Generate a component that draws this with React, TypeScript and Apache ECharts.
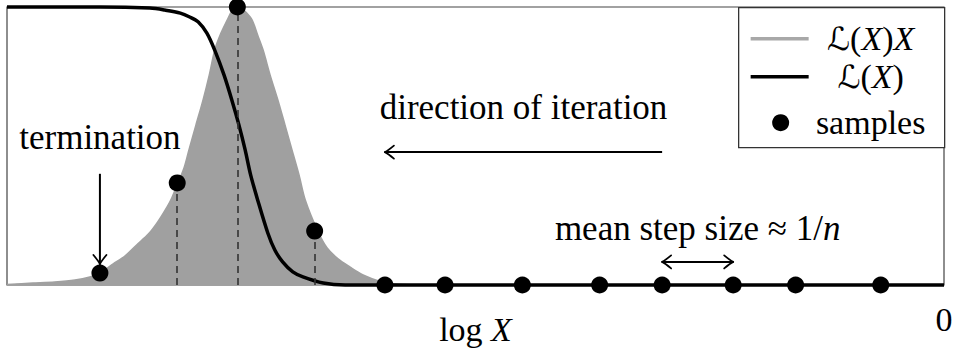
import React, { useEffect, useRef } from "react";
import * as echarts from "echarts";

const W = 954;
const H = 356;

// Posterior mass L(X)X against log X
const massLogX = [-12, -11.67, -11.39, -11.13, -10.94, -10.81, -10.64, -10.49, -10.34, -10.19, -10.07, -9.95, -9.89, -9.81, -9.73, -9.67, -9.58, -9.49, -9.41, -9.34, -9.26, -9.18, -9.12, -9.05, -8.99, -8.93, -8.86, -8.79, -8.72, -8.63, -8.53, -8.44, -8.35, -8.26, -8.18, -8.02, -7.9, -7.76, -7.61, -7.44, -7.22, -6.97, -6.71, 0];
const massValue = [0.002, 0.007, 0.011, 0.018, 0.029, 0.043, 0.076, 0.104, 0.144, 0.183, 0.227, 0.281, 0.313, 0.367, 0.424, 0.486, 0.576, 0.665, 0.755, 0.845, 0.906, 0.953, 0.986, 1.0, 0.993, 0.978, 0.953, 0.899, 0.845, 0.755, 0.665, 0.576, 0.486, 0.396, 0.306, 0.194, 0.133, 0.094, 0.065, 0.036, 0.013, 0.003, 0, 0];

// Likelihood L(X) against log X
const likeLogX = [-12, -10.81, -10.17, -9.98, -9.78, -9.66, -9.55, -9.44, -9.34, -9.22, -9.12, -9.03, -8.95, -8.88, -8.79, -8.66, -8.57, -8.47, -8.34, -8.21, -7.95, -7.67, 0];
const likeValue = [1, 1, 0.996, 0.989, 0.978, 0.964, 0.946, 0.906, 0.845, 0.755, 0.665, 0.576, 0.486, 0.396, 0.306, 0.187, 0.126, 0.083, 0.047, 0.029, 0.007, 0, 0];

// Dead points of the run
const sampleLogX = [-10.81, -9.82, -9.05, -8.06, -7.16, -6.39, -5.4, -4.41, -3.61, -2.7, -1.9, -0.81];
const sampleValue = [0.043, 0.367, 1.0, 0.194, 0, 0, 0, 0, 0, 0, 0, 0];
const dashedSamples = [1, 2, 3];

// Axis range and the single tick label
const xMin = -12;
const xMax = 0;
const xTickLabels = ["0"];

const legendNames = ["ℒ(X)X", "ℒ(X)", "samples"];

// Annotation heights (in units of the value axis)
const terminationTextY = 0.53;
const terminationArrowTop = 0.4;
const directionTextY = 0.637;
const directionArrowY = 0.478;
const stepTextY = 0.205;
const stepArrowY = 0.083;

const SERIF = "'Liberation Serif', 'Times New Roman', serif";
const SCRIPT = "'DejaVu Serif', 'DejaVu Sans', serif";
const INK = "#000";

const mathRich = (size: number) => ({
  r: { fontFamily: SERIF, fontSize: size, color: INK },
  i: { fontFamily: SERIF, fontSize: size, fontStyle: "italic", color: INK },
  s: { fontFamily: SCRIPT, fontSize: size - 2, fontStyle: "italic", color: INK },
});

function arrowHead(tip: number[], from: number[]) {
  const len = Math.hypot(tip[0] - from[0], tip[1] - from[1]);
  const dx = (tip[0] - from[0]) / len;
  const dy = (tip[1] - from[1]) / len;
  const nx = -dy;
  const ny = dx;
  return [1, -1].map((s) => ({
    type: "bezierCurve",
    shape: {
      x1: tip[0] - dx * 9 + nx * 6.5 * s,
      y1: tip[1] - dy * 9 + ny * 6.5 * s,
      cpx1: tip[0] - dx * 3 + nx * 1.5 * s,
      cpy1: tip[1] - dy * 3 + ny * 1.5 * s,
      x2: tip[0],
      y2: tip[1],
    },
    style: { stroke: INK, lineWidth: 1.8, fill: "none", lineCap: "round" },
    z: 20,
  }));
}

function shaft(a: number[], b: number[]) {
  return {
    type: "line",
    shape: { x1: a[0], y1: a[1], x2: b[0], y2: b[1] },
    style: { stroke: INK, lineWidth: 2 },
    z: 20,
  };
}

function label(text: string, x: number, y: number, size: number) {
  return {
    type: "text",
    x,
    y,
    z: 20,
    style: {
      text,
      rich: mathRich(size),
      fontFamily: SERIF,
      fontSize: size,
      fill: INK,
      align: "center",
      textAlign: "center",
      verticalAlign: "middle",
      textVerticalAlign: "middle",
    },
  };
}

function buildGraphics(chart: echarts.ECharts) {
  const px = (x: number, y: number) => chart.convertToPixel({ gridIndex: 0 }, [x, y]) as number[];
  const out: any[] = [];

  // termination
  const t = px(sampleLogX[0], sampleValue[0]);
  const tText = px(sampleLogX[0], terminationTextY);
  const tTop = px(sampleLogX[0], terminationArrowTop);
  const tTip = [t[0], t[1] - 9];
  out.push(label("{r|termination}", tText[0], tText[1], 35));
  out.push(shaft(tTop, tTip));
  out.push(...arrowHead(tTip, tTop));

  // direction of iteration
  const dStart = px(sampleLogX[8], directionArrowY);
  const dTip = px(sampleLogX[4], directionArrowY);
  const dMid = px((sampleLogX[8] + sampleLogX[4]) / 2, directionTextY);
  out.push(label("{r|direction of iteration}", dMid[0], dMid[1], 35));
  out.push(shaft(dStart, dTip));
  out.push(...arrowHead(dTip, dStart));

  // mean step size
  const a = px(sampleLogX[8], stepArrowY);
  const b = px(sampleLogX[9], stepArrowY);
  const sMid = px((sampleLogX[8] + sampleLogX[9]) / 2, stepTextY);
  out.push(label("{r|mean step size ≈ 1/}{i|n}", sMid[0], sMid[1], 35));
  out.push(shaft(a, b));
  out.push(...arrowHead(a, b));
  out.push(...arrowHead(b, a));

  // legend box
  out.push({
    type: "group",
    left: 738,
    top: 7,
    z: 30,
    children: [
      {
        type: "rect",
        shape: { x: 0, y: 0, width: 206, height: 140 },
        style: { fill: "#fff", stroke: "#333", lineWidth: 1.3 },
      },
      {
        type: "line",
        shape: { x1: 12, y1: 31, x2: 70, y2: 31 },
        style: { stroke: "#a8a8a8", lineWidth: 3.5 },
      },
      label("{s|ℒ}{r|(}{i|X}{r|)}{i|X}", 132, 31, 34),
      {
        type: "line",
        shape: { x1: 12, y1: 69, x2: 70, y2: 69 },
        style: { stroke: INK, lineWidth: 3.5 },
      },
      label("{s|ℒ}{r|(}{i|X}{r|)}", 132, 69, 34),
      {
        type: "circle",
        shape: { cx: 42, cy: 115, r: 8.5 },
        style: { fill: INK },
      },
      label("{r|" + legendNames[2] + "}", 132, 115, 34),
    ],
  });
  return out;
}

export default function App() {
  const ref = useRef<HTMLDivElement>(null);

  useEffect(() => {
    const el = ref.current!;
    const chart = echarts.init(el, undefined, { renderer: "svg", width: W, height: H });
    chart.setOption({
      animation: false,
      backgroundColor: "#fff",
      grid: {
        left: 7,
        right: W - 944,
        top: 7,
        bottom: H - 285,
        outerBoundsMode: "none",
        containLabel: false,
        show: true,
        borderColor: "#444",
        borderWidth: 1.2,
        backgroundColor: "transparent",
      },
      xAxis: {
        type: "value",
        min: xMin,
        max: xMax,
        interval: 12,
        name: "{r|log }{i|X}",
        nameLocation: "middle",
        nameGap: 27,
        nameMoveOverlap: false,
        nameTextStyle: { rich: mathRich(34), fontFamily: SERIF, fontSize: 34, color: INK },
        axisLine: { show: false },
        axisTick: { show: false },
        splitLine: { show: false },
        axisLabel: {
          showMinLabel: true,
          showMaxLabel: true,
          margin: 17,
          fontFamily: SERIF,
          fontSize: 34,
          color: INK,
          formatter: (v: number) => (v === xMax ? xTickLabels[0] : ""),
        },
      },
      yAxis: {
        type: "value",
        min: 0,
        max: 1,
        show: false,
        splitLine: { show: false },
      },
      series: [
        {
          name: legendNames[0],
          type: "line",
          data: massLogX.map((x, i) => [x, massValue[i]]),
          smooth: 0.3,
          symbol: "none",
          lineStyle: { color: "#a0a0a0", width: 1.5 },
          areaStyle: { color: "#a0a0a0", opacity: 1 },
          z: 1,
        },
        {
          name: legendNames[1],
          type: "line",
          data: likeLogX.map((x, i) => [x, likeValue[i]]),
          smooth: 0.3,
          symbol: "none",
          clip: false,
          lineStyle: { color: INK, width: 3.5 },
          z: 4,
        },
        {
          name: legendNames[2],
          type: "scatter",
          data: sampleLogX.map((x, i) => [x, sampleValue[i]]),
          symbolSize: 17,
          clip: false,
          itemStyle: { color: INK, opacity: 1 },
          z: 6,
          markLine: {
            silent: true,
            symbol: ["none", "none"],
            label: { show: false },
            lineStyle: { type: [7, 5], color: "#333", width: 1.6 },
            data: dashedSamples.map((i) => [
              { coord: [sampleLogX[i], 0] },
              { coord: [sampleLogX[i], sampleValue[i]] },
            ]),
          },
        },
      ],
    });
    chart.setOption({ graphic: buildGraphics(chart) });
    return () => chart.dispose();
  }, []);

  return (
    <div
      ref={ref}
      style={{ position: "fixed", left: 0, top: 0, width: W, height: H, background: "#fff" }}
    />
  );
}
